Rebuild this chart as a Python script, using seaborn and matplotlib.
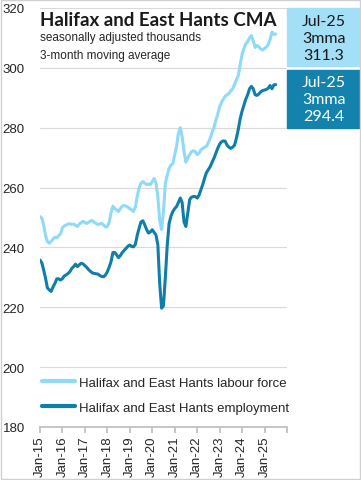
import pandas as pd
import numpy as np
import seaborn as sns
import matplotlib.pyplot as plt
import matplotlib.dates as mdates
from matplotlib.patches import Rectangle
from matplotlib.transforms import blended_transform_factory

# monthly 3-month moving averages, Jan-15 .. Jul-25 (thousands)
labour_force = [
    250.3, 249.8, 247.5, 244.0, 242.0, 241.4, 242.0, 242.8, 243.4, 243.2, 244.0, 244.5,
    246.6, 247.2, 247.5, 247.8, 247.9, 247.7, 247.8, 247.4, 247.0, 247.8, 248.3, 248.7,
    248.3, 248.0, 248.4, 248.8, 249.0, 248.4, 248.0, 247.6, 247.9, 248.0, 247.5, 246.8,
    247.0, 248.5, 251.5, 253.8, 253.0, 252.5, 252.0, 253.0, 253.8, 254.0, 253.8, 253.4,
    253.0, 252.5, 252.0, 253.5, 257.0, 259.8, 261.5, 262.0, 261.5, 261.0, 261.2, 261.0,
    262.0, 263.0, 261.5, 257.0, 249.0, 246.0, 252.0, 261.5, 264.0, 266.5, 267.5, 268.0,
    271.0, 274.0, 278.0, 280.0, 277.0, 272.0, 268.5, 270.0, 271.0, 272.0, 272.3, 272.0,
    271.0, 271.5, 272.6, 273.0, 273.5, 273.8, 275.0, 276.5, 278.5, 280.0, 282.5, 284.5,
    287.0, 288.5, 289.5, 290.5, 291.0, 291.5, 292.3, 293.0, 294.5, 296.0, 297.5, 301.0,
    304.5, 306.5, 308.0, 308.8, 310.0, 310.8, 309.0, 306.8, 307.5, 307.0, 306.3, 306.0,
    306.5, 307.0, 307.8, 309.5, 312.0, 311.2, 311.3,
]
employment = [
    235.8, 234.8, 232.5, 229.7, 226.5, 225.8, 225.3, 226.8, 228.0, 229.5, 229.5, 229.1,
    229.6, 230.5, 230.8, 231.3, 231.9, 233.0, 233.6, 234.4, 233.6, 234.2, 234.7, 234.5,
    233.9, 233.3, 232.6, 232.0, 231.5, 231.3, 231.2, 231.1, 230.6, 230.3, 230.2, 230.8,
    231.9, 233.5, 235.2, 238.3, 238.3, 237.5, 236.6, 237.3, 238.3, 239.0, 239.7, 240.4,
    240.8, 240.3, 240.2, 241.0, 244.0, 246.4, 248.5, 248.9, 247.5, 246.0, 244.8, 245.2,
    245.9, 245.0, 244.2, 240.9, 228.0, 219.7, 220.5, 230.0, 240.8, 248.0, 250.5, 252.0,
    253.0, 253.7, 255.0, 256.5, 255.0, 248.5, 247.0, 251.5, 256.0, 256.8, 257.0, 257.0,
    256.5, 257.5, 259.2, 261.0, 263.1, 265.0, 266.0, 267.0, 268.5, 269.8, 271.5, 273.1,
    274.5, 275.3, 275.6, 275.5, 274.2, 273.5, 273.1, 273.5, 274.2, 276.5, 279.5, 283.0,
    285.5, 287.6, 289.5, 291.0, 293.0, 293.8, 293.0, 291.0, 290.8, 291.3, 292.0, 292.4,
    292.6, 292.8, 293.2, 294.1, 293.0, 294.3, 294.4,
]
series_names = ["Halifax and East Hants labour force", "Halifax and East Hants employment"]
last_label = "Jul-25"

light = "#8fdaf6"
dark = "#0f7fa9"
box_light = "#a3dff7"
box_dark = "#1383ae"

dates = pd.date_range("2015-01-01", periods=len(labour_force), freq="MS")
df = pd.concat([
    pd.DataFrame({"Date": dates, "Value": labour_force, "Series": series_names[0]}),
    pd.DataFrame({"Date": dates, "Value": employment, "Series": series_names[1]}),
])

sns.set_theme(style="white")
plt.rcParams["font.family"] = ["Liberation Sans", "DejaVu Sans"]

fig = plt.figure(figsize=(3.61, 4.81), dpi=100)
ax = fig.add_axes([40 / 361, 1 - 428 / 481, 247 / 361, 419 / 481])

sns.lineplot(data=df, x="Date", y="Value", hue="Series",
             palette=[light, dark], linewidth=2.2, ax=ax)

ax.set_ylim(180, 320)
ax.set_yticks(range(180, 321, 20))
ax.set_xlim(pd.Timestamp("2015-01-01"), pd.Timestamp("2026-01-01"))
years = [pd.Timestamp(f"{y}-01-01") for y in range(2015, 2027)]
ax.set_xticks(years)
ax.set_xticklabels([d.strftime("%b-%y") for d in years[:-1]] + [""], rotation=90)
ax.set_xlabel("")
ax.set_ylabel("")
ax.grid(axis="y", color="#d9d9d9", linewidth=0.8)
for s in ["top", "right", "left"]:
    ax.spines[s].set_visible(False)
ax.spines["bottom"].set_color("#bfbfbf")
ax.tick_params(axis="x", bottom=True, direction="out", length=4, color="#bfbfbf",
               labelsize=9.5, pad=2, labelcolor="#262626")
ax.tick_params(axis="y", left=False, length=0, labelsize=9.5, pad=11, labelcolor="#262626")

ax.legend(handles=ax.get_lines()[:2], labels=series_names, loc="center left",
          bbox_to_anchor=(-0.013, 0.076), borderaxespad=0, frameon=False, fontsize=9.5,
          handlelength=2.5, handletextpad=0.3, labelspacing=0.97)
for line in ax.get_legend().get_lines():
    line.set_linewidth(3)

fig.text(40 / 361, 1 - 20 / 481, "Halifax and East Hants CMA", fontsize=13.5,
         fontweight="bold", family=["Lato", "DejaVu Sans"], va="center", color="#1a1a1a")
fig.text(40 / 361, 1 - 38 / 481, "seasonally adjusted thousands", fontsize=8.5,
         va="center", color="#262626")
fig.text(40 / 361, 1 - 56 / 481, "3-month moving average", fontsize=8.5,
         va="center", color="#262626")

# value boxes at the right side
tr = blended_transform_factory(ax.transAxes, ax.transData)
xr = (361 - 40) / 247
ax.add_patch(Rectangle((1.0, 300.6), xr - 1.0, 19.4, transform=tr, color=box_light,
                       clip_on=False, zorder=5))
ax.add_patch(Rectangle((1.0, 280.0), xr - 1.0, 19.4, transform=tr, color=box_dark,
                       clip_on=False, zorder=5))
xc = (1.0 + xr) / 2
ax.text(xc, 310.0, f"{last_label}\n3mma\n{labour_force[-1]:.1f}", transform=tr,
        ha="center", va="center", fontsize=11.5, color="#1a1a1a", linespacing=1.27,
        family=["Lato", "DejaVu Sans"], zorder=6)
ax.text(xc, 289.5, f"{last_label}\n3mma\n{employment[-1]:.1f}", transform=tr,
        ha="center", va="center", fontsize=11.5, color="white", linespacing=1.27,
        family=["Lato", "DejaVu Sans"], zorder=6)

fig.patches.append(Rectangle((0.002, 0.002), 0.996, 0.996, transform=fig.transFigure,
                             fill=False, edgecolor="#d0d0d0", linewidth=1))

fig.savefig("out.png", dpi=100)
